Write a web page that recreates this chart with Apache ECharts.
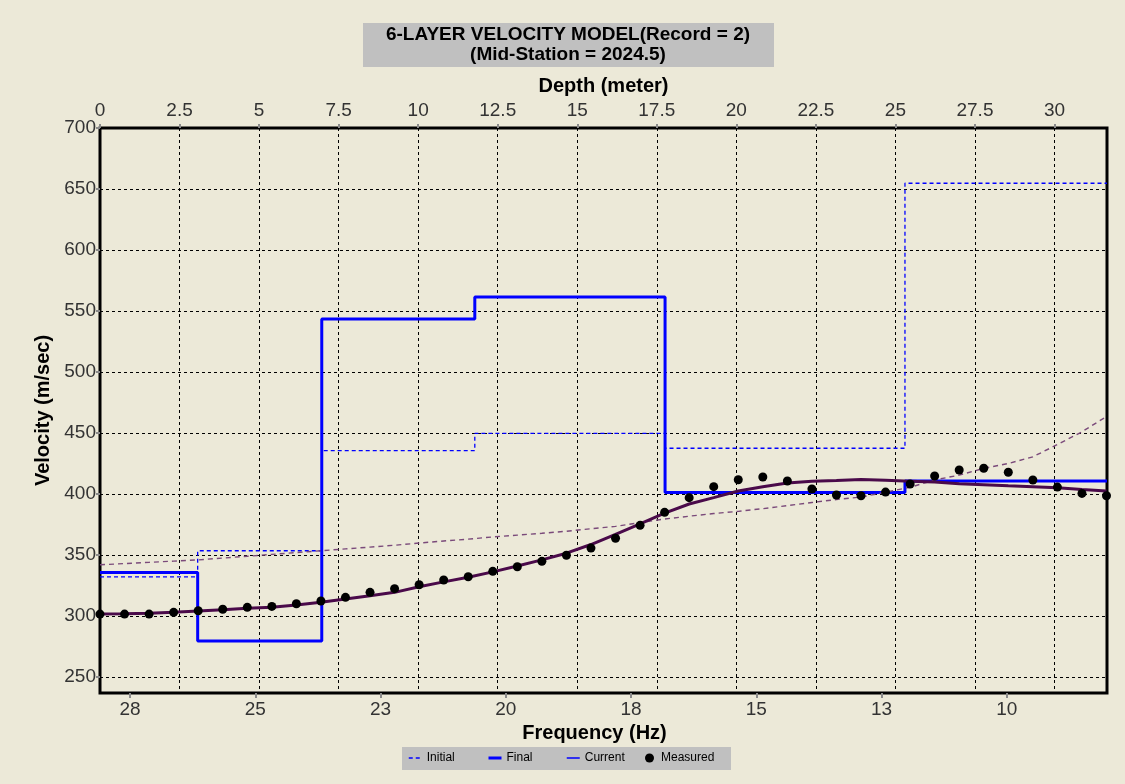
<!DOCTYPE html>
<html>
<head>
<meta charset="utf-8">
<title>6-Layer Velocity Model</title>
<script src="https://cdn.jsdelivr.net/npm/echarts@6/dist/echarts.min.js"></script>
<style>
  html, body { margin: 0; padding: 0; background: #ECE9D8; }
  #chart { width: 1125px; height: 784px; }
</style>
</head>
<body>
<div id="chart"></div>
<script>
// ---- Layered model (depth axis, metres) ----
const layerTops = [0, 3.07, 6.97, 11.78, 17.76, 25.3];
const depthMax = 31.65;
const initialVel = [332.0, 353.5, 435.5, 449.7, 437.5, 654.7];
const finalVel   = [335.7, 279.5, 543.5, 561.5, 401.2, 410.7];
const currentVel = [335.7, 279.5, 543.5, 561.5, 401.2, 410.7];

// ---- Dispersion data (frequency axis, Hz) ----
const frequencies = [
  28.10, 27.61, 27.12, 26.63, 26.14, 25.65, 25.16, 24.67, 24.18, 23.69,
  23.20, 22.71, 22.22, 21.73, 21.24, 20.75, 20.26, 19.77, 19.28, 18.79,
  18.30, 17.81, 17.32, 16.83, 16.34, 15.85, 15.36, 14.87, 14.38, 13.89,
  13.40, 12.91, 12.42, 11.93, 11.44, 10.95, 10.46,  9.97,  9.48,  8.99,
   8.50,  8.01
];
const measuredVel = [
  301.6, 301.6, 301.6, 303.0, 304.3, 305.5, 307.1, 307.9, 310.1, 312.3,
  315.3, 319.4, 322.4, 325.6, 329.5, 332.2, 336.6, 340.4, 344.8, 349.8,
  355.7, 363.7, 374.3, 385.0, 397.0, 406.0, 411.7, 413.9, 410.7, 404.1,
  399.2, 398.6, 401.6, 408.2, 414.8, 419.7, 421.1, 417.8, 411.5, 405.7,
  400.5, 398.6
];
const finalCurveVel = [
  301.6, 301.8, 302.2, 303.0, 304.2, 305.2, 306.4, 307.2, 309.0, 311.2,
  313.9, 316.7, 319.4, 324.0, 328.0, 331.8, 336.2, 341.0, 346.0, 351.5,
  358.6, 367.0, 375.6, 384.3, 391.8, 397.0, 402.5, 406.0, 409.0, 410.5,
  411.0, 411.8, 411.2, 410.5, 409.8, 408.5, 407.6, 406.7, 405.9, 405.1,
  403.6, 402.5
];
const initialCurveVel = [
  342.0, 343.0, 344.0, 345.0, 346.0, 347.5, 349.0, 350.5, 352.0, 353.5,
  355.0, 356.5, 358.0, 359.8, 361.5, 363.0, 364.8, 366.3, 367.8, 369.5,
  371.5, 373.5, 376.5, 379.5, 381.8, 384.0, 385.8, 388.0, 390.5, 393.0,
  395.5, 397.5, 401.5, 405.5, 411.5, 415.5, 421.0, 425.0, 430.5, 440.5,
  451.0, 463.5
];

// ---- Tick labels ----
const freqTickValues = [27.5, 25, 22.5, 20, 17.5, 15, 12.5, 10];
const freqTickLabels = ['28', '25', '23', '20', '18', '15', '13', '10'];

const titleLines = ['6-LAYER VELOCITY MODEL(Record = 2)', '(Mid-Station = 2024.5)'];
const legendNames = ['Initial', 'Final', 'Current', 'Measured'];

// Build [depth, velocity] pairs; step:'end' turns them into layer steps.
function layerPoints(vel) {
  const pts = layerTops.map((d, i) => [d, vel[i]]);
  pts.push([depthMax, vel[vel.length - 1]]);
  return pts;
}
function curvePoints(vel) {
  return frequencies.map((f, i) => [f, vel[i]]);
}

const labelFont = { fontFamily: 'Liberation Sans, Arial, sans-serif', fontSize: 19, color: '#333' };
const nameFont = { fontFamily: 'Liberation Sans, Arial, sans-serif', fontSize: 20, fontWeight: 'bold', color: '#000' };
const gridDash = { color: '#000', width: 1, type: [3, 3] };
const tickStyle = { color: '#8a8a8a', width: 2 };

// One legend box per entry so that each entry sits in its own fixed-width cell.
const legendCellLeft = [408, 487, 566, 645];
const legendLineWidth = { Initial: 1.5, Final: 3, Current: 1.5 };
const legends = legendNames.map((name, i) => ({
  left: legendCellLeft[i],
  top: 752,
  padding: 0,
  itemWidth: 13,
  itemHeight: 9,
  textStyle: { fontFamily: 'Liberation Sans, Arial, sans-serif', fontSize: 12, color: '#000' },
  data: [name === 'Measured'
    ? { name: name, icon: 'circle', itemStyle: { color: '#000' } }
    : {
        name: name,
        itemStyle: { color: 'rgba(0,0,0,0)', borderWidth: 0 },
        lineStyle: { width: legendLineWidth[name] }
      }]
}));

const chart = echarts.init(document.getElementById('chart'), null, { renderer: 'canvas' });

chart.setOption({
  animation: false,
  backgroundColor: '#ECE9D8',
  graphic: [
    {
      type: 'rect',
      shape: { x: 363, y: 23, width: 411, height: 44 },
      style: { fill: '#C0C0C0' },
      z: 0
    },
    {
      type: 'text',
      x: 568, y: 25,
      style: {
        text: titleLines.join('\n'),
        align: 'center',
        verticalAlign: 'top',
        font: 'bold 19px "Liberation Sans", Arial, sans-serif',
        lineHeight: 20,
        fill: '#000'
      },
      z: 1
    },
    {
      type: 'rect',
      shape: { x: 402, y: 747, width: 329, height: 23 },
      style: { fill: '#C0C0C0' },
      z: 0
    }
  ],
  grid: {
    left: 100, right: 18, top: 128, bottom: 91,
    show: true,
    borderColor: '#000',
    borderWidth: 3,
    backgroundColor: 'transparent'
  },
  legend: legends,
  xAxis: [
    {
      // Frequency, decreasing to the right
      type: 'value',
      position: 'bottom',
      inverse: true,
      min: 8.0,
      max: 28.1,
      name: 'Frequency (Hz)',
      nameLocation: 'middle',
      nameGap: 30,
      nameTextStyle: Object.assign({}, nameFont, { padding: [0, 18, 0, 0] }),
      axisLine: { show: false, onZero: false },
      splitLine: { show: false },
      axisTick: { show: true, customValues: freqTickValues, length: 5, lineStyle: tickStyle },
      axisLabel: Object.assign({}, labelFont, {
        customValues: freqTickValues,
        margin: 7,
        formatter: function (v) {
          const k = freqTickValues.findIndex(t => Math.abs(t - v) < 1e-6);
          return k >= 0 ? freqTickLabels[k] : '';
        }
      })
    },
    {
      // Depth
      type: 'value',
      position: 'top',
      min: 0,
      max: depthMax,
      interval: 2.5,
      name: 'Depth (meter)',
      nameLocation: 'middle',
      nameGap: 29,
      nameTextStyle: nameFont,
      axisLine: { show: false, onZero: false },
      splitLine: { show: true, lineStyle: gridDash },
      axisTick: { show: true, length: 4, lineStyle: tickStyle },
      axisLabel: Object.assign({}, labelFont, { margin: 8, showMaxLabel: false })
    }
  ],
  yAxis: {
    type: 'value',
    min: 236.9,
    max: 700,
    minInterval: 50,
    maxInterval: 50,
    name: 'Velocity (m/sec)',
    nameLocation: 'middle',
    nameGap: 46,
    nameTextStyle: nameFont,
    axisLine: { show: false, onZero: false },
    splitLine: { show: true, lineStyle: gridDash },
    axisTick: { show: true, length: 4, lineStyle: tickStyle },
    axisLabel: Object.assign({}, labelFont, { margin: 4, showMinLabel: false })
  },
  series: [
    {
      name: 'Initial',
      type: 'line',
      xAxisIndex: 1,
      step: 'end',
      symbol: 'none',
      data: layerPoints(initialVel),
      lineStyle: { color: '#0000FF', width: 1.3, type: [4, 3] },
      itemStyle: { color: '#0000FF' },
      z: 2
    },
    {
      name: 'Current',
      type: 'line',
      xAxisIndex: 1,
      step: 'end',
      symbol: 'none',
      data: layerPoints(currentVel),
      lineStyle: { color: '#0000FF', width: 1.2 },
      itemStyle: { color: '#0000FF' },
      z: 2
    },
    {
      name: 'Final',
      type: 'line',
      xAxisIndex: 1,
      step: 'end',
      symbol: 'none',
      data: layerPoints(finalVel),
      lineStyle: { color: '#0000FF', width: 3 },
      itemStyle: { color: '#0000FF' },
      z: 3
    },
    {
      name: 'Initial dispersion',
      type: 'line',
      xAxisIndex: 0,
      symbol: 'none',
      data: curvePoints(initialCurveVel),
      lineStyle: { color: '#7A4A7A', width: 1.4, type: [5, 4] },
      itemStyle: { color: '#7A4A7A' },
      z: 4
    },
    {
      name: 'Final dispersion',
      type: 'line',
      xAxisIndex: 0,
      symbol: 'none',
      data: curvePoints(finalCurveVel),
      lineStyle: { color: '#4A0A4A', width: 3 },
      itemStyle: { color: '#4A0A4A' },
      z: 5
    },
    {
      name: 'Measured',
      type: 'scatter',
      xAxisIndex: 0,
      symbol: 'circle',
      symbolSize: 9,
      data: curvePoints(measuredVel),
      itemStyle: { color: '#000', opacity: 1 },
      z: 6
    }
  ]
});
</script>
</body>
</html>
